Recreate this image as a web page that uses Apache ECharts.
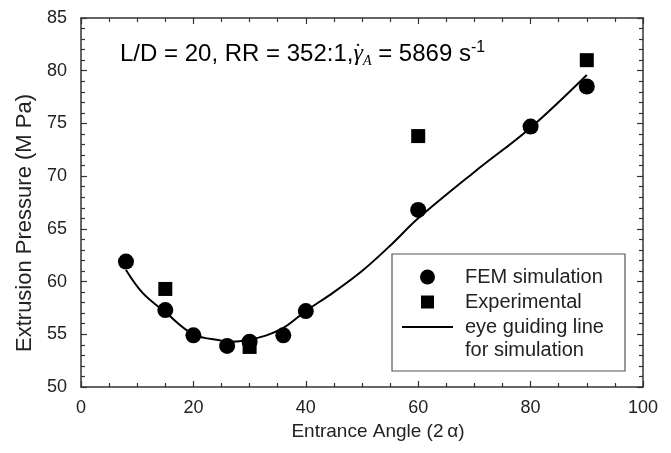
<!DOCTYPE html>
<html>
<head>
<meta charset="utf-8">
<script src="https://cdn.jsdelivr.net/npm/echarts@6/dist/echarts.min.js"></script>
<style>
	html,body{margin:0;padding:0;background:#fff;}
	#main{width:671px;height:453px;}
</style>
</head>
<body>
<div id="main"></div>
<script>
// FEM simulation points
var femAngle = [8, 15, 20, 26, 30, 36, 40, 60, 80, 90];
var femPressure = [61.9, 57.3, 54.9, 53.9, 54.3, 54.9, 57.2, 66.8, 74.7, 78.5];
// experimental points
var expAngle = [15, 30, 60, 90];
var expPressure = [59.3, 53.8, 73.8, 81.0];
// eye guiding line
var guideAngle = [8, 11, 15, 20, 25, 27, 30, 33, 36, 40, 45, 50, 55, 60, 70, 80, 90];
var guidePressure = [61.1, 58.9, 57.1, 55.0, 54.4, 54.3, 54.5, 54.9, 55.6, 57.2, 59.0, 61.0, 63.4, 66.0, 70.4, 74.6, 79.6];
var xTicks = [0, 20, 40, 60, 80, 100];
var yTicks = [50, 55, 60, 65, 70, 75, 80, 85];

function pairs(xs, ys){
	var out = [];
	for(var i=0;i<xs.length;i++){
		out.push([xs[i], ys[i]]);
	}
	return out;
}

var chart = echarts.init(document.getElementById('main'));
var font = 'Liberation Sans, Arial, sans-serif';
var serif = 'Liberation Serif, Times New Roman, serif';
var axisCol = '#333';
var txtCol = '#222';

function makeX(pos, showLabel){
	return {
		type:'value', position:pos, min:xTicks[0], max:xTicks[xTicks.length-1], interval:20,
		name: showLabel ? 'Entrance Angle (2\u2009\u03b1)' : '',
		nameLocation:'middle', nameGap:30,
		nameTextStyle:{fontFamily:font, fontSize:19, color:txtCol, padding:[0,0,0,32]},
		axisLine:{show:true, onZero:false, lineStyle:{color:axisCol, width:1.5}},
		axisTick:{show:true, inside:true, length:6, lineStyle:{color:axisCol, width:1.2}},
		minorTick:{show:true, splitNumber:4, length:4, lineStyle:{color:axisCol, width:1.2}},
		axisLabel:{show:showLabel, margin:12, fontFamily:font, fontSize:18, color:txtCol},
		splitLine:{show:false}
	};
}
function makeY(pos, showLabel){
	return {
		type:'value', position:pos, min:yTicks[0], max:yTicks[yTicks.length-1], interval:5,
		name: showLabel ? 'Extrusion Pressure (M Pa)' : '',
		nameLocation:'middle', nameGap:44,
		nameTextStyle:{fontFamily:font, fontSize:22, color:txtCol, padding:[0,41,0,0]},
		axisLine:{show:true, onZero:false, lineStyle:{color:axisCol, width:1.5}},
		axisTick:{show:true, inside:true, length:6, lineStyle:{color:axisCol, width:1.2}},
		minorTick:{show:true, splitNumber:5, length:4, lineStyle:{color:axisCol, width:1.2}},
		axisLabel:{show:showLabel, margin:14, fontFamily:font, fontSize:18, color:txtCol},
		splitLine:{show:false}
	};
}

var option = {
	animation:false,
	backgroundColor:'#fff',
	grid:{left:81, right:28, top:18, bottom:66},
	xAxis:[makeX('bottom', true), makeX('top', false)],
	yAxis:[makeY('left', true), makeY('right', false)],
	legend:{
		orient:'vertical', left:392, top:254,
		padding:[12, 21, 33, 10],
		itemWidth:51, itemHeight:15, itemGap:3,
		borderColor:'#555', borderWidth:1.2,
		textStyle:{fontFamily:font, fontSize:20, color:txtCol, lineHeight:22, padding:[0,0,0,7]},
		data:[
			{name:'FEM simulation', icon:'path://M0,0M51,15M18,7.5A7.5,7.5 0 1 0 33,7.5A7.5,7.5 0 1 0 18,7.5Z'},
			{name:'Experimental', icon:'path://M0,0M51,15M19,1H32V14H19Z'},
			{name:'eye guiding line', icon:'path://M0,0M51,15M0,6.5H51V8.5H0Z'}
		]
	},
	graphic:[
		{
			type:'text', left:465, top:340,
			style:{text:'for simulation', fontFamily:font, fontSize:20, fill:txtCol}
		},
		{
			type:'text', x:120, y:54,
			style:{
				text:'{a|L/D = 20, RR = 352:1,}{g|\u03b3}{s|A}{a| = 5869 s}{p|-1}',
				verticalAlign:'middle',
				rich:{
					a:{fontFamily:font, fontSize:24, color:txtCol, lineHeight:28},
					g:{fontFamily:serif, fontStyle:'italic', fontSize:24, color:txtCol, lineHeight:28},
					s:{fontFamily:serif, fontStyle:'italic', fontSize:14, color:txtCol, lineHeight:14, verticalAlign:'bottom'},
					p:{fontFamily:font, fontSize:16, color:txtCol, lineHeight:12, verticalAlign:'top'}
				}
			}
		},
		{
			// the dot over gamma
			type:'text', x:354, y:53,
			style:{text:'\u02d9', fontFamily:serif, fontSize:24, fill:txtCol, verticalAlign:'middle'}
		}
	],
	series:[
		{
			name:'eye guiding line', type:'line', smooth:0.35, symbol:'none',
			lineStyle:{color:'#000', width:2},
			itemStyle:{color:'#000'},
			data:pairs(guideAngle, guidePressure), z:3
		},
		{
			name:'FEM simulation', type:'scatter', symbol:'circle', symbolSize:16,
			itemStyle:{color:'#000', opacity:1},
			data:pairs(femAngle, femPressure), z:2
		},
		{
			name:'Experimental', type:'scatter', symbol:'rect', symbolSize:14,
			itemStyle:{color:'#000', opacity:1},
			data:pairs(expAngle, expPressure), z:2
		}
	]
};
chart.setOption(option);
</script>
</body>
</html>
